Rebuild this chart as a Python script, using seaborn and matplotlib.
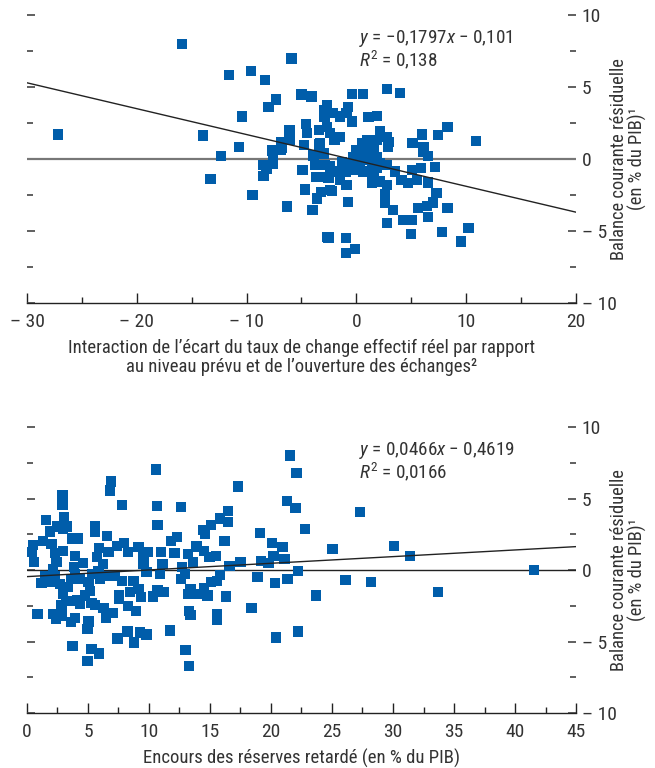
import numpy as np
import pandas as pd
import matplotlib
matplotlib.use("Agg")
import matplotlib.pyplot as plt
import seaborn as sns
from matplotlib.ticker import MultipleLocator, FixedLocator

# ==================== DATA ====================
# top panel: REER gap x trade openness vs residual current account
top_x = [-15.9, -27.2, -14.0, -12.3, -13.3, -11.6, -9.6, -8.35, -5.9, -10.4, -10.7, -9.45,
         -7.35, -8.0, -5.0, -4.1, -6.1, -6.1, -6.87, -6.87, -7.7, -7.6, -8.5, -7.6, -8.2,
         -8.45, -6.35, -4.9, -4.7, -3.7, -3.6, -3.25, -4.0, -2.7, -4.8, -4.6, -4.5, -3.4,
         -3.4, -3.9, -3.8, -2.9, -3.0, -2.9, -2.7, -2.9, -2.8, -2.4,
         -0.43, 0.63, 2.8, 3.97, -2.1, -1.5, -0.74, -0.9, -0.4, 1.1, 1.9, -6.05, -6.8, -6.8,
         -2.7, -2.4, -1.5, -2.0, -3.3, -3.9, -3.3, -2.4, -1.8, -2.55, -1.5, -0.9, -2.2,
         -0.74, -2.55, -0.97, -0.97, -0.13, -0.9, -0.6, 0.02, 0.3, 0.02, 0.5, 0.94, 1.25,
         1.85, 2.15, 2.76, 3.0, 2.9, 1.4, 1.85, 0.94, 2.15, 2.76, 1.4, 0.6, 1.55, 1.4, 2.15,
         2.76, 3.5, 2.6, 2.6, 3.36, 2.76, 4.27, 5.04, 4.97, 4.1, 4.7, 5.5, 5.04, 5.9, 7.16,
         6.5, 7.3, 7.0, 6.4, 5.6, 6.5, 8.3, 7.77, 10.2, 9.5, 5.1, 6.0, 6.1, 6.55, 7.46, 8.3,
         10.9, 6.1, 0.3, 1.0, 1.6, 0.6, -0.3, 1.9, -1.0, -1.3]
top_y = [8.0, 1.69, 1.62, 0.23, -1.37, 5.85, 6.13, 5.5, 6.97, 2.94, 0.85, -2.48,
         4.14, 3.63, 4.47, 4.33, 2.01, 1.32, 1.2, 0.63, 0.58, 0.16, -0.42, -0.32, -0.72,
         -1.16, -3.31, -0.76, -2.13, -1.23, -2.75, -2.27, -3.52, -5.44, 0.99, 2.45, 1.78, 2.0,
         1.0, 0.2, -0.42, -0.42, 0.38, 3.4, 3.75, 2.94, -1.27, -2.15,
         4.49, 4.49, 4.84, 4.56, 3.17, 2.94, 3.59, 3.17, 2.6, 2.9, 3.0, 1.5, 0.74, 1.2,
         2.24, 1.78, 1.55, 1.32, 1.09, 0.28, -0.44, -0.53, -0.88, -1.34, -1.46, -1.8, -2.2,
         -3.0, -5.46, -5.5, -6.55, -6.27, -0.5, -0.32, -0.76, -0.42, 0.63, 1.09, 1.32, 0.85,
         1.32, 1.9, 1.55, 1.2, 0.85, 0.16, 0.16, -0.07, -0.3, -0.42, -0.65, -0.88, -1.23, -1.64, -1.57,
         -1.8, -0.88, -2.43, -3.07, -3.54, -4.47, -4.24, -4.24, -5.23, -1.46, -1.69, -1.46, -0.76, -0.65, -0.58,
         -1.64, -2.38, -3.03, -3.26, -3.42, -4.05, -3.42, -5.05, -4.77, -5.74, 1.12, 1.7, 0.85, 0.21, 1.67, 2.2,
         1.27, 0.5, 0.3, 0.5, 0.6, 0.0, 0.1, -0.6, -0.9, -0.2]
top_coef = (-0.1797, -0.101)

# bottom panel: lagged reserves stock vs residual current account
bot_x = [21.56, 22.1, 10.55, 17.3, 6.89, 6.8, 2.92, 2.92, 7.76, 10.63, 12.6, 21.3, 22.0, 16.5,
         16.5, 15.8, 15.1, 14.4, 14.6, 10.7, 1.53, 1.9, 3.03, 2.5, 3.25, 2.98, 5.6, 5.55, 6.58,
         3.7, 4.13, 1.34, 0.52, 0.38, 0.57, 2.0, 2.3, 2.43, 2.98, 3.93, 3.85, 4.6, 5.9, 5.71,
         6.25, 6.67, 7.35, 7.98, 8.3, 9.13, 9.54, 9.9, 9.54, 9.8, 11.0, 11.1, 10.9, 11.8, 12.3,
         12.1, 12.7, 13.2, 13.9, 14.5, 13.6, 14.95, 15.5, 16.2, 16.6, 17.5, 19.1, 20.1, 20.95,
         20.2, 19.2, 19.8, 21.1, 22.2, 22.8, 18.9, 20.3, 21.35, 23.7, 18.4, 20.4, 22.2, 16.3,
         15.6, 15.55, 14.8, 14.5, 15.1, 15.8, 15.55, 13.2, 13.9, 13.4, 12.6, 12.95, 13.3, 13.4,
         13.0, 13.3, 11.7, 10.3, 10.7, 11.2, 9.8, 9.26, 8.77, 8.25, 7.43, 8.93, 8.3, 9.32, 8.44,
         9.13, 7.54, 7.54, 7.76, 7.2, 8.72, 6.53, 5.98, 5.38, 5.03, 5.16, 4.75, 4.15, 4.34, 5.3,
         5.6, 6.26, 6.53, 7.02, 6.47, 5.03, 4.95, 3.74, 5.3, 5.9, 4.95, 3.93, 3.58, 2.84, 2.38,
         2.16, 0.87, 3.25, 2.84, 2.98, 3.39, 2.7, 2.3, 1.9, 1.2, 1.47, 2.16, 3.58, 3.93, 4.34,
         5.85, 41.56, 27.3, 25.05, 30.1, 31.4, 26.1, 28.2, 33.7]
bot_y = [8.0, 6.78, 7.02, 5.83, 6.18, 5.55, 5.2, 4.55, 4.57, 4.5, 4.43, 4.85, 4.34, 4.15,
         3.38, 3.61, 3.17, 2.82, 2.56, 3.15, 3.52, 2.7, 3.68, 3.05, 3.05, 2.9, 3.1, 2.7, 2.4,
         2.21, 2.21, 2.05, 1.77, 1.28, 0.58, 1.82, 1.19, 0.54, 1.35, 1.0, 0.19, 0.49, 1.54, 0.89,
         0.42, 1.24, 1.7, 1.89, 1.24, 1.63, 1.0, 1.28, 0.42, -0.16, 1.24, 0.42, -0.28, 2.05, 2.33,
         1.19, 0.19, 1.12, 1.65, 1.35, 0.54, 0.89, 1.0, 2.05, 0.3, 0.58, 2.59, 1.89, 1.59,
         1.0, 0.65, 0.47, 0.77, -0.05, 2.87, -0.47, -0.93, -0.63, -1.79, -2.66, -4.73, -4.29, -1.86,
         -3.12, -3.47, -1.79, -1.26, -0.82, -0.33, -0.75, -1.68, -1.68, -1.33, -0.63, -0.28, -2.89, -3.15,
         -5.57, -6.69, -4.24, -1.86, -1.4, -1.52, -4.5, -4.36, -5.06, -4.29, -4.78, -2.89, -2.54, -1.91, -1.52,
         -1.33, -1.79, -2.03, -0.75, -0.4, -0.75, -0.4, -0.63, -0.28, -0.86, -1.45, -1.79, -2.14, -2.38, -2.33,
         -2.45, -2.68, -3.03, -3.03, -3.36, -3.61, -4.13, -5.29, -5.52, -5.83, -6.34, -3.36, -3.66, -3.24, -3.43,
         -3.08, -3.08, -2.19, -2.49, -1.68, -1.21, -0.98, -0.4, -0.86, -0.91, -0.4, 0.07, -0.63, -0.28, -0.63,
         -0.05, 0.02, 4.08, 1.47, 1.7, 1.0, -0.68, -0.82, -1.56]
bot_coef = (0.0466, -0.4619)

top_xticks = [-30, -20, -10, 0, 10, 20]
top_xlabels = ["\u2013 30", "\u2013 20", "\u2013 10", "0", "10", "20"]
bot_xticks = [0, 5, 10, 15, 20, 25, 30, 35, 40, 45]
yticks = [-10, -5, 0, 5, 10]
ylabels = ["\u2013 10", "\u2013 5", "0", "5", "10"]

top_xlabel = ("Interaction de l\u2019\u00e9cart du taux de change effectif r\u00e9el par rapport\n"
              "au niveau pr\u00e9vu et de l\u2019ouverture des \u00e9changes\u00b2")
bot_xlabel = "Encours des r\u00e9serves retard\u00e9 (en % du PIB)"
ylabel = "Balance courante r\u00e9siduelle\n(en % du PIB)\u00b9"

# ==================== STYLE ====================
sns.set_theme(style="white")
plt.rcParams["font.family"] = ["Roboto Condensed", "Liberation Sans Narrow",
                               "Liberation Sans", "DejaVu Sans"]
plt.rcParams["mathtext.fontset"] = "custom"
plt.rcParams["mathtext.it"] = "Roboto Condensed:italic"
plt.rcParams["mathtext.rm"] = "Roboto Condensed"

BLUE = "#005DAA"
TXT = "#333333"

fig = plt.figure(figsize=(6.55, 7.68), dpi=100)
ax_top = fig.add_axes([0.0412, 0.6055, 0.8382, 0.375])
ax_bot = fig.add_axes([0.0412, 0.0716, 0.8382, 0.3724])


def style_panel(ax, xlim, xticks, xlabels, minor_step, xlabel, coef, eq_text, zero_color, zero_lw):
    ax.set_xlim(*xlim)
    ax.set_ylim(-10, 10)
    # regression line drawn from the printed coefficients
    line_x = np.array(xlim, dtype=float)
    ax.plot(line_x, coef[0] * line_x + coef[1], color="#222222", lw=1.0, zorder=3)
    ax.axhline(0, color=zero_color, lw=zero_lw, zorder=1)

    for s in ["top", "left", "right"]:
        ax.spines[s].set_visible(False)
    ax.spines["bottom"].set_color("#222222")
    ax.spines["bottom"].set_linewidth(1.0)

    ax.xaxis.set_major_locator(FixedLocator(xticks))
    ax.set_xticklabels(xlabels)
    ax.xaxis.set_minor_locator(MultipleLocator(minor_step))
    ax.yaxis.set_major_locator(FixedLocator(yticks))
    ax.set_yticklabels(ylabels)
    ax.yaxis.set_minor_locator(MultipleLocator(2.5))

    ax.tick_params(axis="x", which="both", direction="in", bottom=True, top=False,
                   colors="#222222", labelcolor=TXT, labelsize=14, pad=7)
    ax.tick_params(axis="x", which="major", length=7, width=1)
    ax.tick_params(axis="x", which="minor", length=4, width=1)
    ax.tick_params(axis="y", which="both", direction="in", left=True, right=True,
                   labelleft=False, labelright=True, colors="#444444",
                   labelcolor=TXT, labelsize=14, pad=4)
    ax.tick_params(axis="y", which="major", length=6, width=1.2)
    ax.tick_params(axis="y", which="minor", length=4, width=1.2)

    ax.yaxis.set_label_position("right")
    ax.set_ylabel(ylabel, fontsize=13.3, color=TXT, linespacing=1.0)
    ax.yaxis.set_label_coords(1.062, 0.5)
    ax.set_xlabel(xlabel, fontsize=13.5, color=TXT, labelpad=6, linespacing=1.05)
    ax.text(0.605, 0.955, eq_text, transform=ax.transAxes, fontsize=13.8, color=TXT,
            va="top", ha="left", linespacing=1.0)
    ax.grid(False)


sns.scatterplot(x=top_x, y=top_y, ax=ax_top, marker="s", s=55, color=BLUE,
                edgecolor="none", linewidth=0, zorder=2)
style_panel(ax_top, (-30, 20), top_xticks, top_xlabels, 5, top_xlabel, top_coef,
            "$y$ = \u22120,1797$x$ \u2212 0,101\n$R^2$ = 0,138", "#777777", 1.6)

sns.scatterplot(x=bot_x, y=bot_y, ax=ax_bot, marker="s", s=55, color=BLUE,
                edgecolor="none", linewidth=0, zorder=2)
style_panel(ax_bot, (0, 45), bot_xticks, [str(t) for t in bot_xticks], 2.5, bot_xlabel,
            bot_coef, "$y$ = 0,0466$x$ \u2212 0,4619\n$R^2$ = 0,0166", "#222222", 1.0)

fig.savefig("out.png", dpi=100)
